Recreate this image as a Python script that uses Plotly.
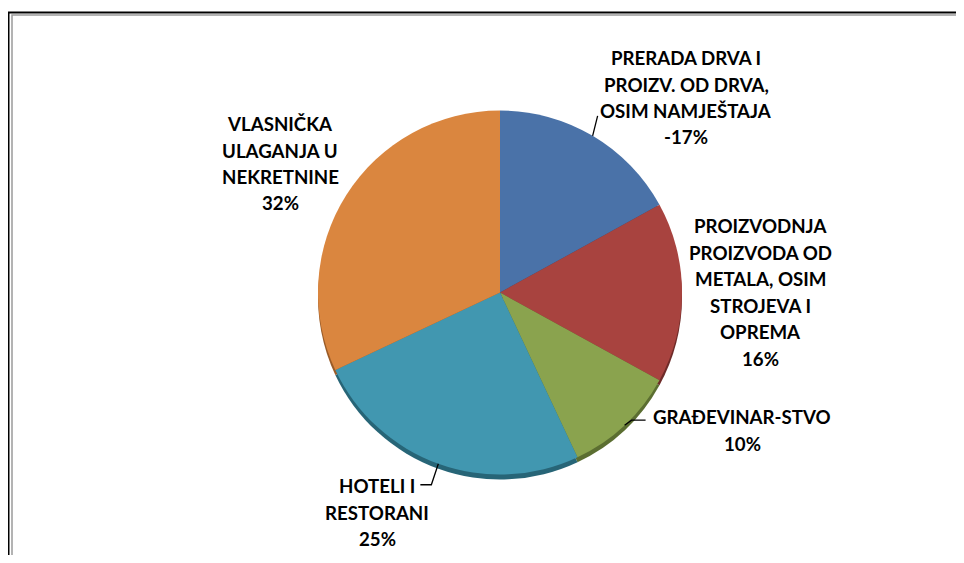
import math
import plotly.graph_objects as go

# ---- data ----
sectors = [
    "PRERADA DRVA I PROIZV. OD DRVA, OSIM NAMJEŠTAJA",
    "PROIZVODNJA PROIZVODA OD METALA, OSIM STROJEVA I OPREMA",
    "GRAĐEVINAR-STVO",
    "HOTELI I RESTORANI",
    "VLASNIČKA ULAGANJA U NEKRETNINE",
]
shares = [17, 16, 10, 25, 32]
share_text = ["-17%", "16%", "10%", "25%", "32%"]
label_lines = [
    ["PRERADA DRVA I", "PROIZV. OD DRVA,", "OSIM NAMJEŠTAJA"],
    ["PROIZVODNJA", "PROIZVODA OD", "METALA, OSIM", "STROJEVA I", "OPREMA"],
    ["GRAĐEVINAR-STVO"],
    ["HOTELI I", "RESTORANI"],
    ["VLASNIČKA", "ULAGANJA U", "NEKRETNINE"],
]
colors = ["#4A72A8", "#A8433F", "#8AA34E", "#4197B0", "#DA863F"]
rim_colors = ["#2E4C75", "#6E2B29", "#5B6E31", "#276577", "#9A5B27"]

# page has an 8px body margin, so the figure is shrunk and shifted to fit the window
OFF = 8
W, H = 964 - 2 * OFF, 563 - 2 * OFF
CX, CY, R = 500, 292.5, 182  # pie centre / radius in window px


def px(x):
    return (x - OFF) / W


def py(y):
    return 1 - (y - OFF) / H


def dom(cx, cy, r):
    return dict(x=[px(cx - r), px(cx + r)], y=[py(cy + r), py(cy - r)])


fig = go.Figure()

# dark rim under the pie (fake 3D edge)
fig.add_trace(go.Pie(
    labels=sectors, values=shares, sort=False, direction="clockwise", rotation=0,
    marker=dict(colors=rim_colors), textinfo="none", hoverinfo="skip",
    domain=dom(CX, CY + 5, R), showlegend=False,
))
fig.add_trace(go.Pie(
    labels=sectors, values=shares, sort=False, direction="clockwise", rotation=0,
    marker=dict(colors=colors), textinfo="none", text=share_text,
    hovertemplate="%{label}<br>%{text}<extra></extra>",
    domain=dom(CX, CY, R), showlegend=False,
))

# label text, one annotation per line (Excel-like line pitch)
label_pos = [(686, 58), (760, 226), (742, 417), (377, 486), (280, 124)]
pitch = 26.5
font = dict(family="Lato, Carlito, Arial", size=18.7, color="#000000", weight=700)
for lines, pct, (lx, ly) in zip(label_lines, share_text, label_pos):
    for i, t in enumerate(lines + [pct]):
        fig.add_annotation(x=px(lx), y=py(ly + i * pitch), xref="paper", yref="paper",
                           text=t, showarrow=False, font=font,
                           xanchor="center", yanchor="middle")

# leader lines start at slice mid-angles
total = sum(shares)
cum = 0
mids = []
for v in shares:
    mids.append(math.radians((cum + v / 2) / total * 360))
    cum += v

leader_bends = {0: [(5, -20)], 2: [(7, -5), (21, -5)], 3: [(-7, 21), (-18, 21)]}
for idx, bends in leader_bends.items():
    a = mids[idx]
    sx, sy = CX + R * math.sin(a), CY - R * math.cos(a)
    pts = [(sx, sy)] + [(sx + dx, sy + dy) for dx, dy in bends]
    path = "M " + " L ".join(f"{px(x):.5f},{py(y):.5f}" for x, y in pts)
    fig.add_shape(type="path", path=path, xref="paper", yref="paper",
                  line=dict(color="#000000", width=1.3))

# outer frame (black with grey inner line), clipped right/bottom like the source
fig.add_shape(type="rect", xref="paper", yref="paper",
              x0=px(8.5), x1=px(980), y0=py(580), y1=py(12.5),
              line=dict(color="#000000", width=2))
fig.add_shape(type="rect", xref="paper", yref="paper",
              x0=px(12), x1=px(980), y0=py(580), y1=py(15),
              line=dict(color="#9A9A9A", width=1.5))

fig.update_layout(
    width=W, height=H,
    margin=dict(l=0, r=0, t=0, b=0),
    paper_bgcolor="#FFFFFF", plot_bgcolor="#FFFFFF",
    showlegend=False,
)

fig.write_html("out.html")
